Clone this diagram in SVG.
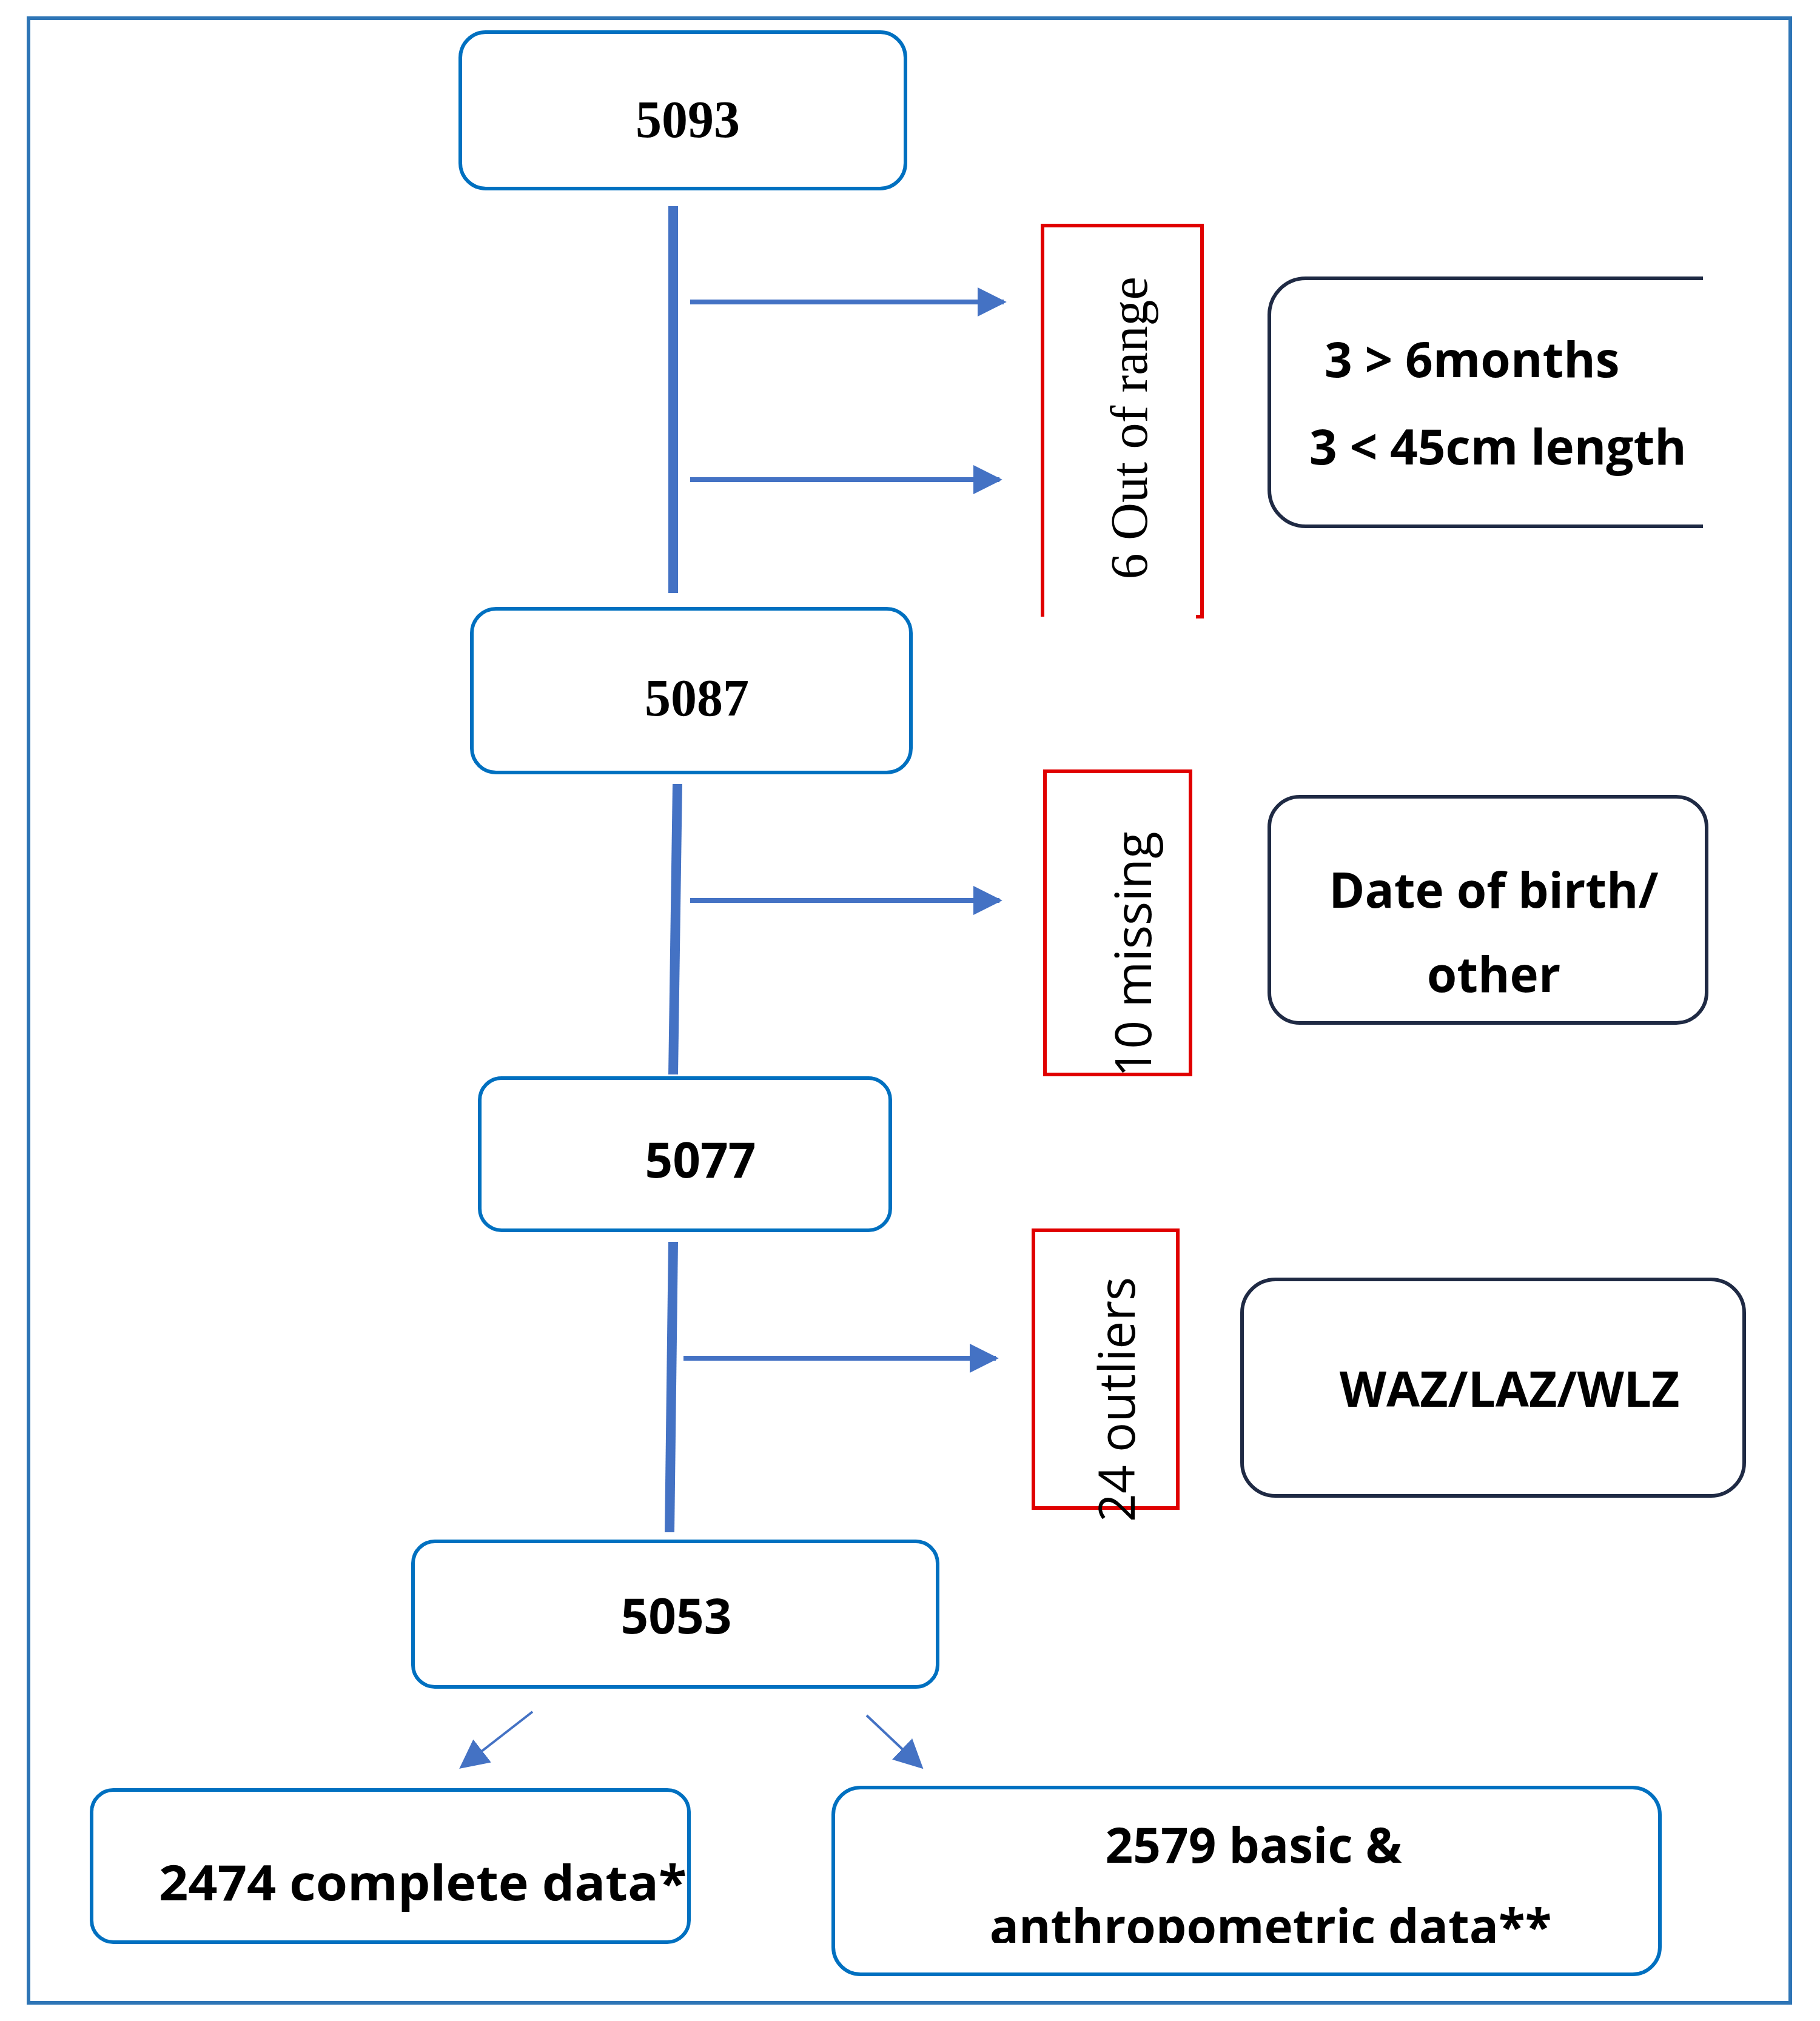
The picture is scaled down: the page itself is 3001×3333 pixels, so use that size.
<svg xmlns="http://www.w3.org/2000/svg" width="3001" height="3333" viewBox="0 0 3001 3333">
<style>
.bb{fill:#fff;stroke:#0070C0;stroke-width:6}
.db{fill:#fff;stroke:#1F2A44;stroke-width:6}
.rb{fill:none;stroke:#E00000;stroke-width:6}
.ln{stroke:#4472C4;stroke-width:16;fill:none}
.ar{stroke:#4472C4;stroke-width:8;fill:none}
.th{stroke:#4472C4;stroke-width:4;fill:none}
.sf{font-family:"Liberation Serif",serif;font-size:86px;fill:#000}
.sn{font-family:"Open Sans","Liberation Sans",sans-serif;font-weight:bold;font-size:80px;fill:#000}
.sr{font-family:"Open Sans","Liberation Sans",sans-serif;font-size:82px;fill:#000}
</style>
<defs>
<marker id="ah" viewBox="0 0 10 10" refX="9" refY="5" markerWidth="6" markerHeight="6" markerUnits="strokeWidth" orient="auto"><path d="M0,0 L10,5 L0,10 z" fill="#4472C4"/></marker>
<marker id="ah2" viewBox="0 0 10 10" refX="9" refY="5" markerWidth="12" markerHeight="12" markerUnits="strokeWidth" orient="auto"><path d="M0,0 L10,5 L0,10 z" fill="#4472C4"/></marker>
<clipPath id="c1"><rect x="2093" y="1314" width="721" height="370"/></clipPath>
<clipPath id="c2"><rect x="1374" y="2948" width="1363" height="256"/></clipPath>
</defs>
<rect x="47" y="30" width="2905" height="3273" fill="none" stroke="#2E75B6" stroke-width="6"/>
<g id="connectors">
<line class="ln" x1="1110" y1="340" x2="1110" y2="978"/>
<line class="ar" x1="1138" y1="498" x2="1655" y2="498" marker-end="url(#ah)"/>
<line class="ar" x1="1138" y1="791" x2="1648" y2="791" marker-end="url(#ah)"/>
<line class="ln" x1="1117" y1="1293" x2="1110" y2="1772"/>
<line class="ar" x1="1138" y1="1485" x2="1648" y2="1485" marker-end="url(#ah)"/>
<line class="ln" x1="1110" y1="2048" x2="1104" y2="2527"/>
<line class="ar" x1="1127" y1="2240" x2="1642" y2="2240" marker-end="url(#ah)"/>
<line class="th" x1="878" y1="2823" x2="761" y2="2914" marker-end="url(#ah2)"/>
<line class="th" x1="1429" y1="2829" x2="1519" y2="2914" marker-end="url(#ah2)"/>
</g>
<g id="n5093"><rect class="bb" x="759" y="53" width="734" height="258" rx="42"/><text class="sf" font-weight="bold" x="1134" y="226" text-anchor="middle">5093</text></g>
<g id="outrange"><path class="rb" d="M1719,1017 V372 H1982 V1017 H1972"/><text class="sf" transform="translate(1891,706) rotate(-90)" text-anchor="middle">6  Out of range</text></g>
<g id="crit1"><path class="db" d="M2808,868 H2153 A60,60 0 0 1 2093,808 V519 A60,60 0 0 1 2153,459 H2808"/><text class="sn" x="2184" y="622">3 &gt; 6months</text><text class="sn" x="2159" y="766">3 &lt; 45cm length</text></g>
<g id="n5087"><rect class="bb" x="778" y="1004" width="724" height="270" rx="40"/><text class="sf" font-weight="bold" x="1149" y="1180" text-anchor="middle">5087</text></g>
<g id="missing"><rect class="rb" x="1723" y="1272" width="240" height="500"/><text class="sr" transform="translate(1898,1574) rotate(-90)" text-anchor="middle">10 missing</text></g>
<g id="crit2"><rect class="db" x="2093" y="1314" width="721" height="373" rx="50"/><g clip-path="url(#c1)"><text class="sn" x="2463" y="1497" text-anchor="middle">Date of birth/</text><text class="sn" x="2463" y="1636" text-anchor="middle">other</text></g></g>
<g id="n5077"><rect class="bb" x="791" y="1778" width="677" height="251" rx="36"/><text class="sn" x="1155" y="1942" text-anchor="middle">5077</text></g>
<g id="outliers"><rect class="rb" x="1704" y="2029" width="238" height="458"/><text class="sr" transform="translate(1871,2308) rotate(-90)" text-anchor="middle">24 outliers</text></g>
<g id="crit3"><rect class="db" x="2048" y="2110" width="828" height="357" rx="55"/><text class="sn" x="2489" y="2320" text-anchor="middle">WAZ/LAZ/WLZ</text></g>
<g id="n5053"><rect class="bb" x="681" y="2542" width="865" height="240" rx="36"/><text class="sn" x="1115" y="2694" text-anchor="middle">5053</text></g>
<g id="n2474"><rect class="bb" x="151" y="2952" width="985" height="251" rx="36"/><text class="sn" x="262" y="3134" textLength="870" lengthAdjust="spacingAndGlyphs">2474 complete data*</text></g>
<g id="n2579"><rect class="bb" x="1374" y="2948" width="1363" height="308" rx="45"/><g clip-path="url(#c2)"><text class="sn" x="2067" y="3072" text-anchor="middle">2579 basic &amp;</text><text class="sn" x="2095" y="3206" text-anchor="middle">anthropometric data**</text></g></g>
</svg>
